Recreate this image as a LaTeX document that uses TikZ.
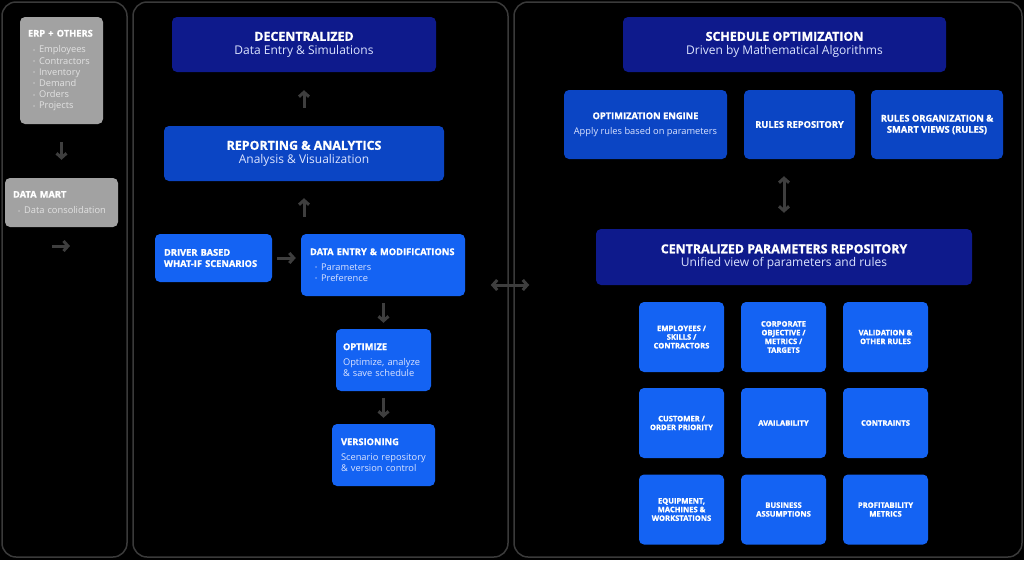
\documentclass[tikz,border=0pt]{standalone}
\usepackage{fontspec}
\setmainfont{Open Sans}[BoldFeatures={FakeBold=1.2}]
\usetikzlibrary{arrows.meta}
\definecolor{navy}{HTML}{0E1A8C}
\definecolor{midblue}{HTML}{0B45C4}
\definecolor{liteblue}{HTML}{1463F3}
\definecolor{srcgray}{HTML}{A2A2A2}
\definecolor{framegray}{HTML}{3A3A3A}
\definecolor{arrowgray}{HTML}{3E3E3E}
\definecolor{subtext}{HTML}{DCE4FF}
\definecolor{bullgray}{HTML}{E2E2E2}
\newcommand{\bigsz}{\fontsize{12.4}{14.5}\selectfont}
\newcommand{\subsz}{\fontsize{12}{14.5}\selectfont}
\newcommand{\smallsz}{\fontsize{9.3}{11.2}\selectfont}
\newcommand{\cellsz}{\fontsize{7.6}{8.7}\selectfont}
\newcommand{\bul}{\hspace*{5pt}{\fontsize{5.5}{5}\selectfont\raisebox{0.6pt}{\textbullet}}\hspace{4pt}}

\begin{document}
\begin{tikzpicture}[x=1pt, y=-1pt,
  panel/.style={draw=framegray, line width=1.5pt, rounded corners=14pt, inner sep=0pt},
  box/.style={rounded corners=5pt, text=white, align=center, inner sep=3pt},
  navybox/.style={box, fill=navy},
  midbox/.style={box, fill=midblue},
  litebox/.style={box, fill=liteblue},
  graybox/.style={box, fill=srcgray, align=left, inner xsep=8pt, font=\smallsz},
  stepbox/.style={litebox, align=left, inner xsep=9pt, font=\smallsz},
  cell/.style={litebox, minimum width=85pt, minimum height=70pt, font=\cellsz\bfseries},
  arr/.style={-{Straight Barb[length=4.5pt,width=10pt]}, line width=3pt, arrowgray},
  darr/.style={{Straight Barb[length=4.5pt,width=10pt]}-{Straight Barb[length=4.5pt,width=10pt]}, line width=3pt, arrowgray},
]
\fill[black] (0,0) rectangle (1024,560);

% ── Panels ──
\node[panel, minimum width=125pt, minimum height=555pt] (srcpanel) at (64.5,279.5) {};
\node[panel, minimum width=375pt, minimum height=555pt] (midpanel) at (320.5,279.5) {};
\node[panel, minimum width=508pt, minimum height=555pt] (optpanel) at (768,279.5) {};

% ── Sources ──
\node[graybox, text width=67pt, minimum height=107pt] (erp) at (61.5,70.5)
  {\textbf{ERP + OTHERS}\\[5pt]
   \color{bullgray}\bul Employees\\\bul Contractors\\\bul Inventory\\\bul Demand\\\bul Orders\\\bul Projects};
\node[graybox, text width=97pt, minimum height=49pt] (mart) at (61.5,202.5)
  {\textbf{DATA MART}\\[5pt]\color{bullgray}\bul Data consolidation};
\coordinate (feedA) at (52,246);
\coordinate (feedB) at (70,246);

% ── Decentralized side ──
\node[navybox, minimum width=264pt, minimum height=55pt] (dec) at (304,44.5)
  {{\bigsz\bfseries DECENTRALIZED}\\[1.5pt]{\subsz\color{subtext}Data Entry \& Simulations}};
\node[midbox, minimum width=280pt, minimum height=55pt] (rep) at (304,153.5)
  {{\bigsz\bfseries REPORTING \& ANALYTICS}\\[1.5pt]{\subsz\color{subtext}Analysis \& Visualization}};
\node[stepbox, text width=99pt, minimum height=48pt] (driver) at (213.5,258)
  {\textbf{DRIVER BASED}\\\textbf{WHAT-IF SCENARIOS}};
\node[stepbox, text width=146pt, minimum height=62pt] (entry) at (383,265)
  {\textbf{DATA ENTRY \& MODIFICATIONS}\\[4pt]\color{subtext}\bul Parameters\\\bul Preference};
\node[stepbox, text width=81pt, inner xsep=7pt, minimum height=62pt] (optim) at (383.5,360)
  {\textbf{OPTIMIZE}\\[4pt]\color{subtext}\mbox{Optimize, analyze}\\\& save schedule};
\node[stepbox, text width=85pt, minimum height=62pt] (vers) at (383.5,455)
  {\textbf{VERSIONING}\\[4pt]\color{subtext}Scenario repository\\\& version control};

% ── Optimization side ──
\node[navybox, minimum width=323pt, minimum height=55pt] (sched) at (784.5,44.5)
  {{\bigsz\bfseries SCHEDULE OPTIMIZATION}\\[1.5pt]{\subsz\color{subtext}Driven by Mathematical Algorithms}};
\node[midbox, minimum width=163pt, minimum height=69pt, font=\smallsz] (engine) at (645.5,124.5)
  {\textbf{OPTIMIZATION ENGINE}\\[4pt]\color{subtext}Apply rules based on parameters};
\node[midbox, minimum width=111pt, minimum height=69pt, font=\smallsz\bfseries] (rulesrepo) at (799.5,124.5)
  {RULES REPOSITORY};
\node[midbox, minimum width=132pt, minimum height=69pt, font=\smallsz\bfseries] (rulesorg) at (937,124.5)
  {RULES ORGANIZATION \&\\SMART VIEWS (RULES)};
\node[navybox, minimum width=376pt, minimum height=56pt] (params) at (784,257)
  {{\bigsz\bfseries CENTRALIZED PARAMETERS REPOSITORY}\\[1.5pt]{\subsz\color{subtext}Unified view of parameters and rules}};

% ── Parameter cells ──
\node[cell] (c11) at (681.5,337) {EMPLOYEES /\\SKILLS /\\CONTRACTORS};
\node[cell] (c12) at (783.5,337) {CORPORATE\\OBJECTIVE /\\METRICS /\\TARGETS};
\node[cell] (c13) at (885.5,337) {VALIDATION \&\\OTHER RULES};
\node[cell] (c21) at (681.5,423) {CUSTOMER /\\ORDER PRIORITY};
\node[cell] (c22) at (783.5,423) {AVAILABILITY};
\node[cell] (c23) at (885.5,423) {CONTRAINTS};
\node[cell] (c31) at (681.5,509.5) {EQUIPMENT,\\MACHINES \&\\WORKSTATIONS};
\node[cell] (c32) at (783.5,509.5) {BUSINESS\\ASSUMPTIONS};
\node[cell] (c33) at (885.5,509.5) {PROFITABILITY\\METRICS};

% ── Arrows ──
\draw[arr, shorten <=18pt, shorten >=18pt] (erp.south) -- (erp.south |- mart.north);
\draw[arr] (feedA) -- (feedB);
\draw[arr, shorten <=18pt, shorten >=18pt] (rep.north) -- (dec.south);
\draw[arr, shorten <=17pt, shorten >=17pt] (rep.south |- entry.north) -- (rep.south);
\draw[arr, shorten <=5pt, shorten >=5pt] (driver.east) -- (driver.east -| entry.west);
\draw[arr, shorten <=7pt, shorten >=6pt] (optim.north |- entry.south) -- (optim.north);
\draw[arr, shorten <=7pt, shorten >=6pt] (optim.south) -- (optim.south |- vers.north);

% between the two sides
\draw[darr, shorten <=-18pt, shorten >=-16pt] ([yshift=-5.5pt]midpanel.east) -- ([yshift=-5.5pt]optpanel.west);
\draw[darr, shorten <=16pt, shorten >=17pt] (params.north) -- (params.north |- rulesrepo.south);

\end{tikzpicture}
\end{document}
